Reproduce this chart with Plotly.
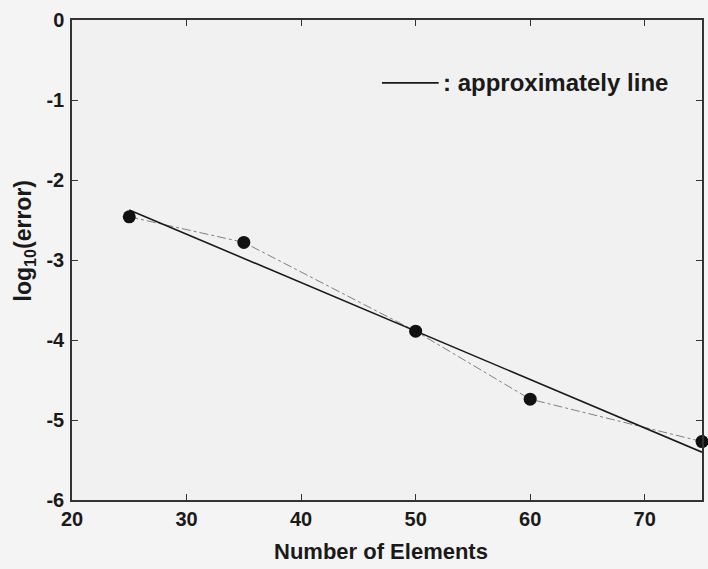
import numpy as np
import plotly.graph_objects as go

# Convergence data: number of elements vs log10 of the error
elements = [25, 35, 50, 60, 75]
log_error = [-2.46, -2.78, -3.89, -4.74, -5.27]

x_ticks = [20, 30, 40, 50, 60, 70]
x_ticktext = ["20", "30", "40", "50", "60", "70"]
y_ticks = [0, -1, -2, -3, -4, -5, -6]
y_ticktext = ["0", "-1", "-2", "-3", "-4", "-5", "-6"]

# Least-squares straight line through the points
slope, intercept = np.polyfit(elements, log_error, 1)
fit_x = [elements[0], elements[-1]]
fit_y = [slope * v + intercept for v in fit_x]

FONT = "Liberation Sans, Arial, sans-serif"
INK = "#1a1a1a"

fig = go.Figure()

fig.add_trace(go.Scatter(
    x=elements, y=log_error, mode="lines",
    line=dict(color="#808080", width=1, dash="dashdot"),
    showlegend=False, hoverinfo="skip",
))
fig.add_trace(go.Scatter(
    x=fit_x, y=fit_y, mode="lines",
    line=dict(color=INK, width=1.6),
    showlegend=False, hoverinfo="skip",
))
fig.add_trace(go.Scatter(
    x=elements, y=log_error, mode="markers",
    marker=dict(color="#111111", size=13),
    showlegend=False, cliponaxis=False,
))

axis_common = dict(
    showgrid=False, zeroline=False, showline=True,
    linecolor="#333333", linewidth=1.5,
    ticks="inside", ticklen=6, tickwidth=1.2, tickcolor="#333333",
    mirror="ticks",
    tickfont=dict(family=FONT, size=20, color=INK, weight="bold"),
)

fig.update_xaxes(range=[20, 75], tickmode="array", tickvals=x_ticks,
                 ticktext=x_ticktext, **axis_common)
fig.update_yaxes(range=[-6, 0], tickmode="array", tickvals=y_ticks,
                 ticktext=y_ticktext, ticklabelstandoff=2, **axis_common)

# Legend entry: sample line followed by its description
fig.add_shape(type="line", xref="paper", yref="paper",
              x0=0.492, x1=0.582, y0=0.869, y1=0.869,
              line=dict(color=INK, width=1.6))
fig.add_annotation(xref="paper", yref="paper", x=0.586, y=0.869,
                   xanchor="left", yanchor="middle", showarrow=False,
                   text=": approximately line",
                   font=dict(family=FONT, size=24, color=INK, weight="bold"))

# Axis titles
fig.add_annotation(xref="paper", yref="paper", x=0.49, y=-0.108,
                   xanchor="center", yanchor="middle", showarrow=False,
                   text="Number of Elements",
                   font=dict(family=FONT, size=22, color=INK, weight="bold"))
fig.add_annotation(xref="paper", yref="paper", x=-0.076, y=0.539,
                   xanchor="center", yanchor="middle", showarrow=False,
                   textangle=-90, text="log<sub>10</sub>(error)",
                   font=dict(family=FONT, size=23, color=INK, weight="bold"))

fig.update_layout(
    width=708, height=569,
    margin=dict(l=72, r=4, t=20, b=69),
    paper_bgcolor="#f4f4f4", plot_bgcolor="#f1f1f1",
    showlegend=False,
)

fig.write_html("out.html")
